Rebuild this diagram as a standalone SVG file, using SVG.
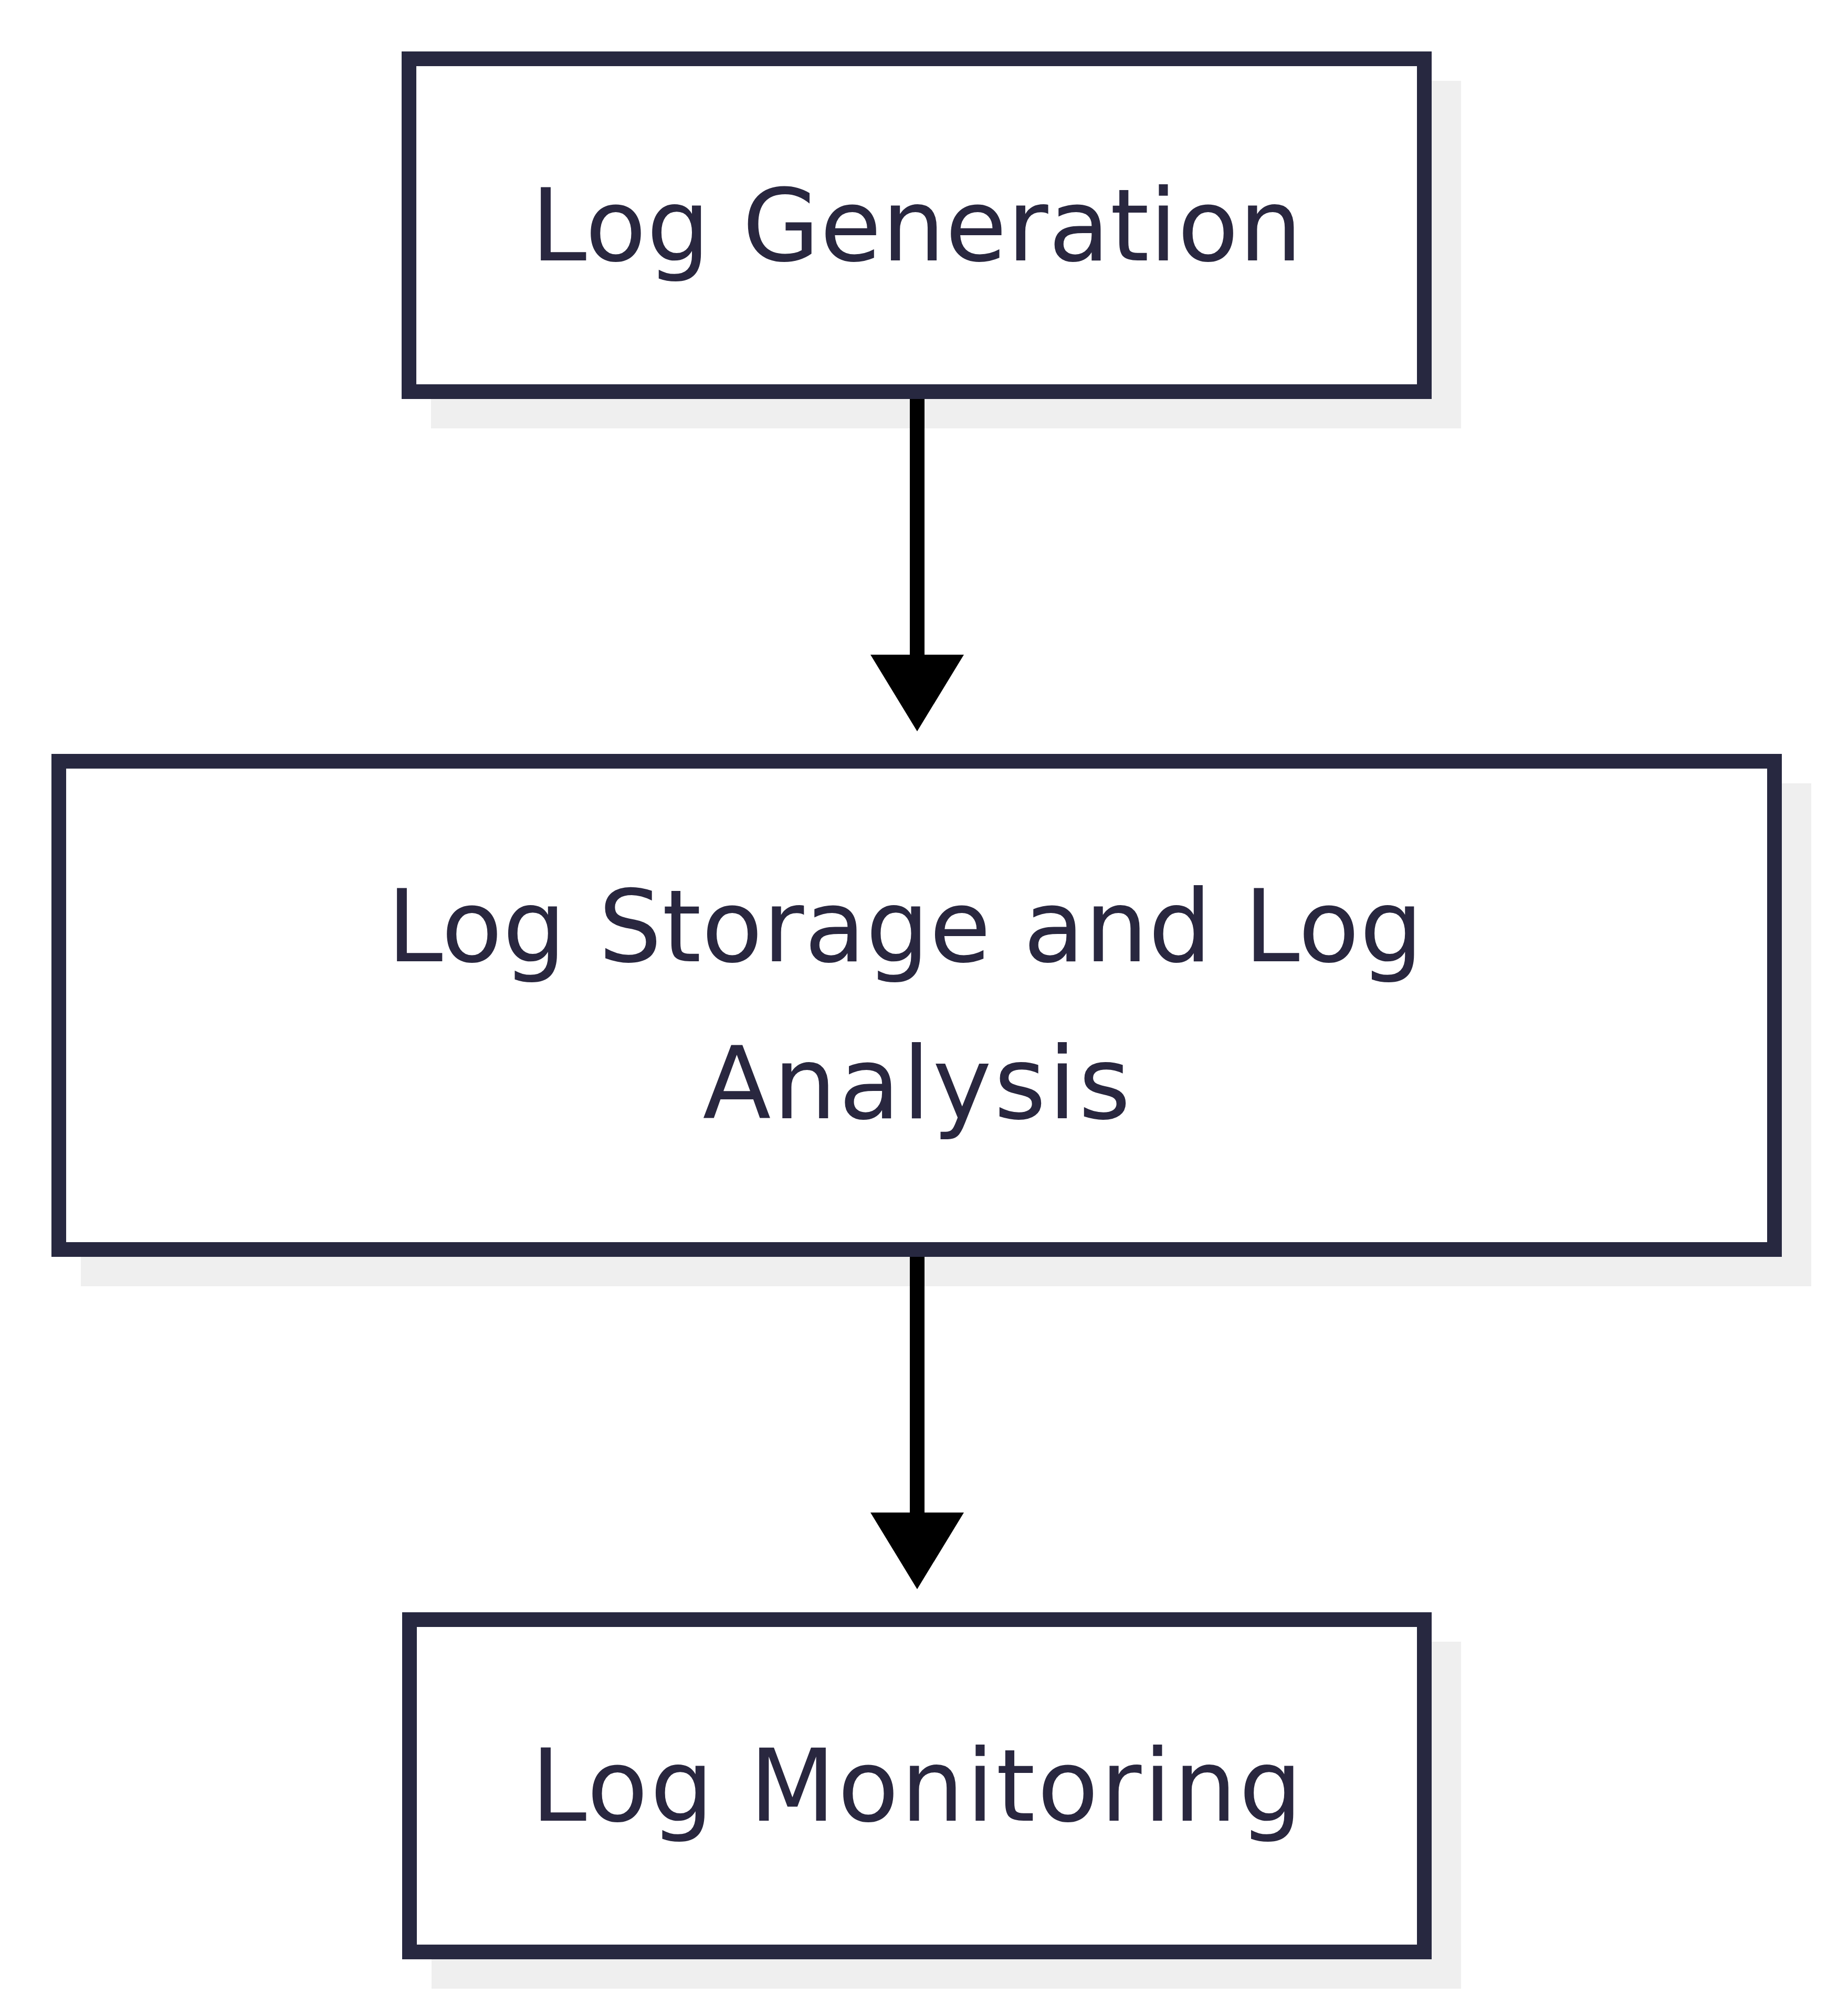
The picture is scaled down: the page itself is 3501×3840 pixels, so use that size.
<svg xmlns="http://www.w3.org/2000/svg" width="3501" height="3840" viewBox="0 0 3501 3840">
<defs>
<style>
.shadow{fill:#efefef;stroke:none}
.box{fill:#ffffff;stroke:#272840;stroke-width:28}
.lbl{font-family:"DejaVu Sans","Liberation Sans",sans-serif;font-size:190px;fill:#29273f;text-anchor:middle}
.edge{stroke:#000000;stroke-width:28;fill:none}
</style>
<marker id="arrow" markerUnits="userSpaceOnUse" markerWidth="146" markerHeight="178" refX="0" refY="89" orient="auto" viewBox="0 0 146 178">
<path d="M0,0 L146,89 L0,178 Z" fill="#000000"/>
</marker>
</defs>
<rect width="3501" height="3840" fill="#ffffff"/>
<g id="node-log-generation">
<rect class="shadow" x="821" y="154" width="1962" height="662"/>
<rect class="box" x="779" y="112" width="1934" height="634"/>
<text class="lbl" x="1746" y="496" textLength="1469" lengthAdjust="spacing">Log Generation</text>
</g>
<g id="node-log-storage-analysis">
<rect class="shadow" x="154" y="1492" width="3296" height="958"/>
<rect class="box" x="112" y="1450" width="3268" height="930"/>
<text class="lbl" x="1724" y="1831" textLength="1973" lengthAdjust="spacing">Log Storage and Log</text>
<text class="lbl" x="1746" y="2130" textLength="815" lengthAdjust="spacing">Analysis</text>
</g>
<g id="node-log-monitoring">
<rect class="shadow" x="822" y="3127" width="1961" height="661"/>
<rect class="box" x="780" y="3085" width="1933" height="633"/>
<text class="lbl" x="1746" y="3468" textLength="1469" lengthAdjust="spacing">Log Monitoring</text>
</g>
<g id="connectors">
<path class="edge" d="M1747,760 L1747,1247" marker-end="url(#arrow)"/>
<path class="edge" d="M1747,2394 L1747,2881" marker-end="url(#arrow)"/>
</g>
</svg>
